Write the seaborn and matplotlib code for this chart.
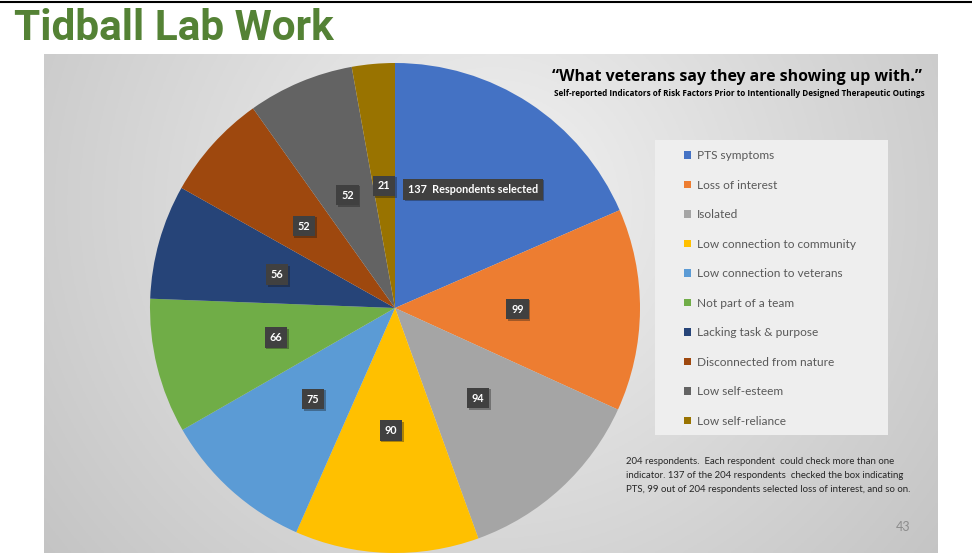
import numpy as np
import matplotlib
matplotlib.use("Agg")
import matplotlib.pyplot as plt
import matplotlib.patheffects as pe
import seaborn as sns
from matplotlib.patches import Rectangle, Patch

categories = ["PTS symptoms", "Loss of interest", "Isolated", "Low connection to community",
              "Low connection to veterans", "Not part of a team", "Lacking task & purpose",
              "Disconnected from nature", "Low self-esteem", "Low self-reliance"]
values = [137, 99, 94, 90, 75, 66, 56, 52, 52, 21]
value_labels = ["137  Respondents selected", "99", "94", "90", "75", "66", "56", "52", "52", "21"]
colors = ["#4472C4", "#ED7D31", "#A5A5A5", "#FFC000", "#5B9BD5",
          "#70AD47", "#264478", "#9E480E", "#636363", "#997300"]

sns.set_theme(style="white")
plt.rcParams['font.family'] = ['Lato', 'DejaVu Sans']
palette = sns.color_palette(colors)

W, H = 972, 553
fig = plt.figure(figsize=(W / 100, H / 100), dpi=100)
fig.patch.set_facecolor("white")

# background axes in pixel coordinates
bg = fig.add_axes([0, 0, 1, 1])
bg.set_xlim(0, W)
bg.set_ylim(H, 0)
bg.axis("off")

# gradient panel
px0, px1, py0, py1 = 44, 937, 54, 553
yy, xx = np.mgrid[0:200, 0:300]
cx, cy = 150, 60
d = np.sqrt(((xx - cx) / 170.0) ** 2 + ((yy - cy) / 200.0) ** 2)
g = 0.95 - 0.16 * np.clip(d, 0, 1.2)
img = np.dstack([g, g, g])
bg.imshow(img, extent=[px0, px1, py1, py0], aspect="auto", zorder=0)

# top rule
bg.plot([0, W], [1.5, 1.5], color="black", lw=1.5, zorder=1)

# slide title
bg.text(14, 28, "Tidball Lab Work", color="#548235", fontsize=30.5, fontweight="bold",
        family=["Roboto", "DejaVu Sans"], va="center", ha="left")

# chart title
bg.text(737, 77, "\u201cWhat veterans say they are showing up with.\u201d", fontsize=11.4,
        fontweight="bold", ha="center", va="center", color="black",
        family=["Open Sans", "DejaVu Sans"])
bg.text(739, 94, "Self-reported Indicators of Risk Factors Prior to Intentionally Designed Therapeutic Outings",
        fontsize=5.9, fontweight="bold", ha="center", va="center", color="black",
        family=["Open Sans", "DejaVu Sans"])

# legend box
bg.add_patch(Rectangle((655, 140), 233, 295, facecolor="#EEEEEE", edgecolor="none", zorder=1))

# footnote
foot = ["204 respondents.  Each respondent  could check more than one",
        "indicator. 137 of the 204 respondents  checked the box indicating",
        "PTS, 99 out of 204 respondents selected loss of interest, and so on."]
for i, line in enumerate(foot):
    bg.text(626, 462 + i * 13.5, line, fontsize=6.9, color="#262626", va="center", ha="left")
bg.text(903, 527, "43", fontsize=9, color="#8C8C8C", va="center", ha="center")

# pie
cxp, cyp, r = 395, 308, 245
ax = fig.add_axes([(cxp - r) / W, (H - cyp - r) / H, 2 * r / W, 2 * r / H])
wedges, _ = ax.pie(values, colors=palette, startangle=90, counterclock=False,
                   radius=1.0, wedgeprops=dict(linewidth=0))
ax.set_xlim(-1, 1)
ax.set_ylim(-1, 1)
ax.set_aspect("equal")
ax.axis("off")

total = sum(values)
cum = 0
for i, (v, lab) in enumerate(zip(values, value_labels)):
    mid = 90 - (cum + v / 2) / total * 360
    cum += v
    dist = 0.58 if i == 0 else 0.5
    x = dist * np.cos(np.radians(mid))
    y = dist * np.sin(np.radians(mid))
    t = ax.text(x, y, lab, fontsize=7.8, fontweight="bold", color="white", ha="center", va="center",
                bbox=dict(boxstyle="square,pad=0.45", facecolor="#404040", edgecolor="none"))
    t.get_bbox_patch().set_path_effects([pe.SimplePatchShadow(offset=(1.2, -1.2), alpha=0.35),
                                         pe.Normal()])

# legend
handles = [Patch(facecolor=c, edgecolor="none") for c in palette]
leg = bg.legend(handles, categories, loc="upper left", bbox_to_anchor=(684 / W, 1 - 150 / H),
                bbox_transform=fig.transFigure, frameon=False, fontsize=8.6,
                handlelength=0.6, handleheight=0.6, handletextpad=0.45, labelspacing=1.55,
                borderpad=0, borderaxespad=0)
for t in leg.get_texts():
    t.set_color("#595959")

fig.savefig("out.png", dpi=100, facecolor="white")
